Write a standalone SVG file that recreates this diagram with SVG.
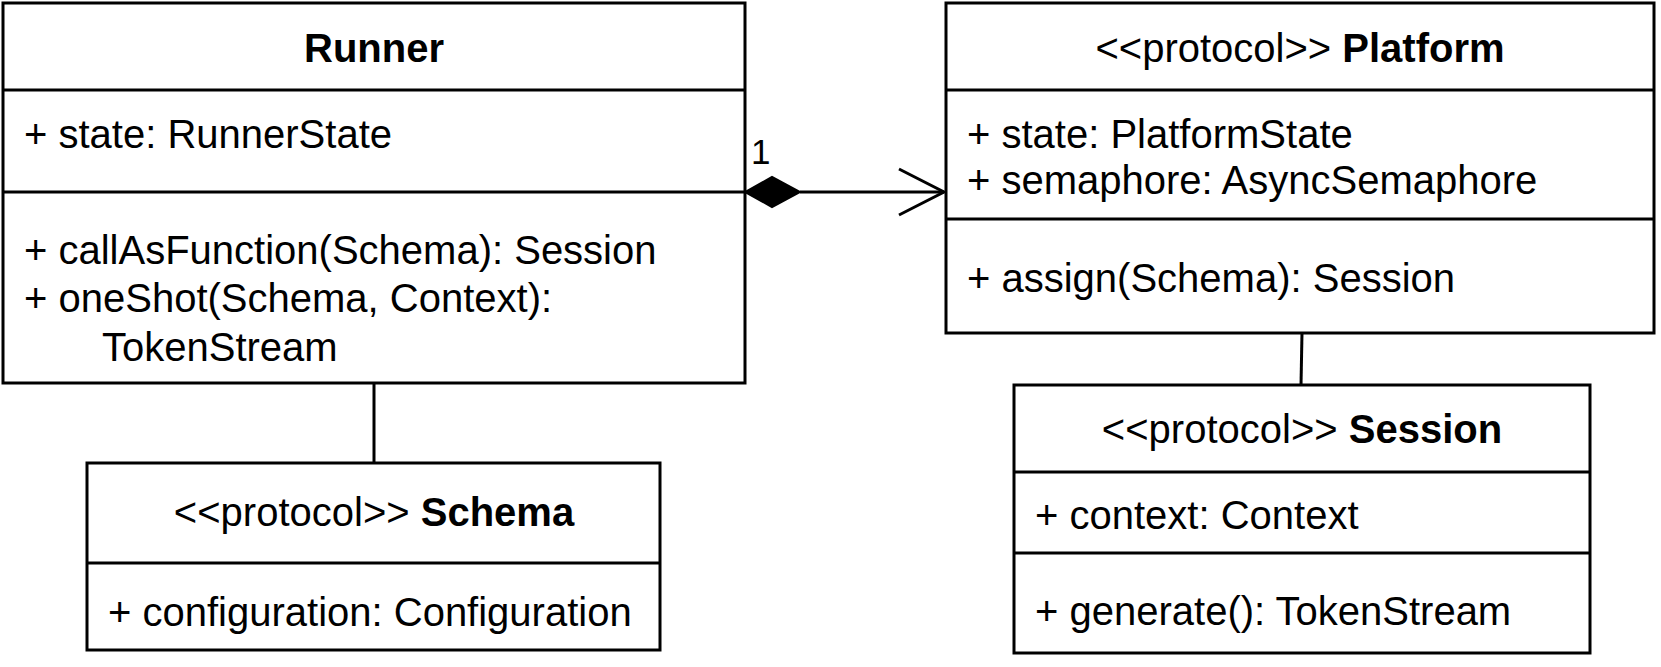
<svg xmlns="http://www.w3.org/2000/svg" width="1661" height="667" viewBox="0 0 1661 667">
<style>
.box{fill:#ffffff;stroke:#000000;stroke-width:3}
.div{stroke:#000000;stroke-width:3;fill:none}
.t{font-family:"Liberation Sans",Arial,sans-serif;font-size:40px;fill:#000000}
.c{text-anchor:middle}
.b{font-weight:bold}
.lbl{font-family:"Liberation Sans",Arial,sans-serif;font-size:35px;fill:#000000}
.edge{stroke:#000000;stroke-width:3;fill:none}
</style>
<rect width="1661" height="667" fill="#ffffff"/>
<g id="connectors">
<line class="edge" x1="374" y1="383" x2="374" y2="463"/>
<line class="edge" x1="1302" y1="333" x2="1301" y2="385"/>
<line class="edge" x1="800" y1="192" x2="944" y2="192"/>
<polyline class="edge" points="899,169 944,192 899,215"/>
<polygon points="745,192 772,177 800,192 772,207" fill="#000000" stroke="#000000" stroke-width="2"/>
<text class="lbl" x="751" y="164">1</text>
</g>
<g id="runner">
<rect class="box" x="3" y="3" width="742" height="380"/>
<line class="div" x1="3" y1="90" x2="745" y2="90"/>
<line class="div" x1="3" y1="192" x2="745" y2="192"/>
<text class="t c b" x="374" y="62">Runner</text>
<text class="t" x="24" y="148">+ state: RunnerState</text>
<text class="t" x="24" y="264">+ callAsFunction(Schema): Session</text>
<text class="t" x="24" y="312">+ oneShot(Schema, Context):</text>
<text class="t" x="102" y="361">TokenStream</text>
</g>
<g id="platform">
<rect class="box" x="946" y="3" width="708" height="330"/>
<line class="div" x1="946" y1="90" x2="1654" y2="90"/>
<line class="div" x1="946" y1="219" x2="1654" y2="219"/>
<text class="t c" x="1300" y="62">&lt;&lt;protocol&gt;&gt; <tspan class="b">Platform</tspan></text>
<text class="t" x="967" y="148">+ state: PlatformState</text>
<text class="t" x="967" y="194">+ semaphore: AsyncSemaphore</text>
<text class="t" x="967" y="292">+ assign(Schema): Session</text>
</g>
<g id="schema">
<rect class="box" x="87" y="463" width="573" height="187"/>
<line class="div" x1="87" y1="563" x2="660" y2="563"/>
<text class="t c" x="374" y="526">&lt;&lt;protocol&gt;&gt; <tspan class="b">Schema</tspan></text>
<text class="t" x="108" y="626">+ configuration: Configuration</text>
</g>
<g id="session">
<rect class="box" x="1014" y="385" width="576" height="268"/>
<line class="div" x1="1014" y1="472" x2="1590" y2="472"/>
<line class="div" x1="1014" y1="553" x2="1590" y2="553"/>
<text class="t c" x="1302" y="443">&lt;&lt;protocol&gt;&gt; <tspan class="b">Session</tspan></text>
<text class="t" x="1035" y="529">+ context: Context</text>
<text class="t" x="1035" y="625">+ generate(): TokenStream</text>
</g>
</svg>
